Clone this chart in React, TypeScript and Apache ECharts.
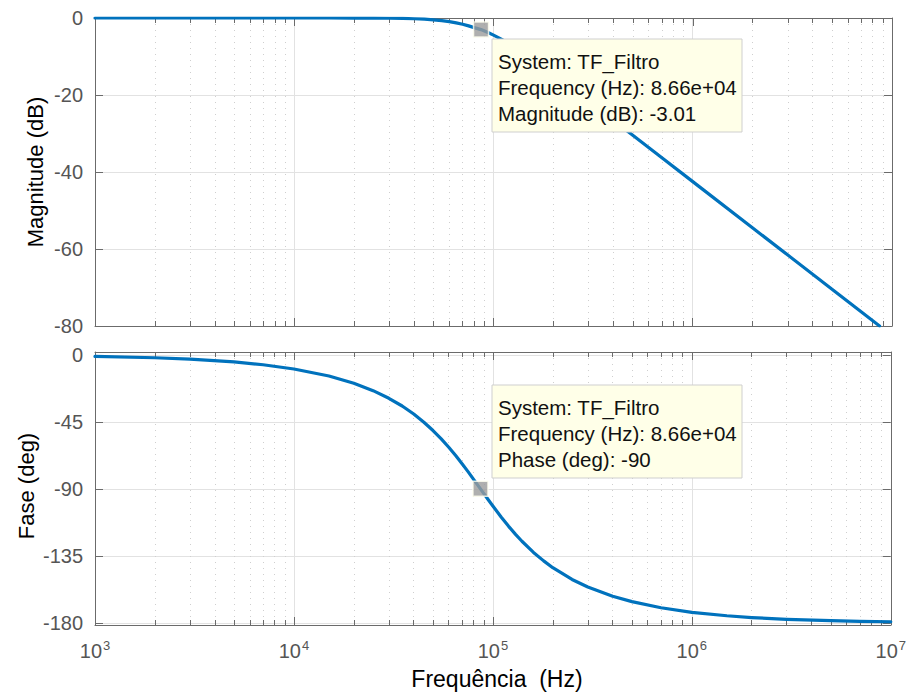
import React, { useEffect, useRef } from 'react';
import * as echarts from 'echarts';

// Magnitude response (Hz, dB)
const MAG_FREQ_HZ = [1e3, 2e3, 5e3, 1e4, 1.5e4, 2e4, 2.5e4, 3e4, 3.5e4, 4e4, 4.5e4, 5e4, 5.5e4, 6e4, 6.5e4, 7e4, 7.5e4, 8e4, 8.66e4, 9.5e4, 1e5, 1.1e5, 1.2e5, 1.3e5, 1.4e5, 1.6e5, 1.8e5, 2e5, 2.5e5, 3e5, 4e5, 5e5, 7e5, 1e6, 2e6, 3e6, 5e6, 8.66e6];
const MAG_DB = [0, 0, 0, 0, -0.004, -0.012, -0.03, -0.063, -0.116, -0.196, -0.31, -0.47, -0.67, -0.93, -1.25, -1.61, -2.04, -2.5, -3.01, -3.9, -4.44, -5.57, -6.71, -7.84, -8.94, -11.02, -12.94, -14.69, -18.48, -21.61, -26.59, -30.46, -36.3, -42.5, -54.54, -61.58, -70.46, -80];

// Phase response (Hz, deg)
const PH_FREQ_HZ = [1e3, 2e3, 3e3, 5e3, 7e3, 1e4, 1.5e4, 2e4, 2.5e4, 3e4, 3.5e4, 4e4, 4.5e4, 5e4, 5.5e4, 6e4, 6.5e4, 7e4, 7.5e4, 8e4, 8.66e4, 9.5e4, 1e5, 1.1e5, 1.2e5, 1.3e5, 1.4e5, 1.6e5, 1.8e5, 2e5, 2.5e5, 3e5, 4e5, 5e5, 7e5, 1e6, 1.5e6, 2e6, 3e6, 5e6, 7e6, 1e7];
const PH_DEG = [-0.94, -1.87, -2.81, -4.68, -6.56, -9.4, -14.17, -19.03, -24.0, -29.1, -34.3, -39.7, -45.2, -50.8, -56.4, -62.0, -67.6, -73.1, -78.4, -83.6, -90, -97.5, -101.5, -108.9, -115.2, -120.6, -125.2, -132.7, -138.4, -143.0, -150.9, -156.0, -162.2, -165.8, -169.9, -173.0, -175.3, -176.5, -177.7, -178.6, -179.0, -179.3];

// Axes
const X_MIN_HZ = 1e3;
const X_MAX_HZ = 1e7;
const DECADES = [3, 4, 5, 6];
const MINOR_MULT = [2, 3, 4, 5, 6, 7, 8, 9];
const MAG_TICKS = [-80, -60, -40, -20, 0];
const PHASE_TICKS = [-180, -135, -90, -45, 0];
const PHASE_MIN = -181.5;
const PHASE_MAX = 2;

// Data tips
const TIP_FREQ = 8.66e4;
const TIP_MAG = -3.01;
const TIP_PHASE = -90;
const TIP_MAG_LINES = ['System: TF_Filtro', 'Frequency (Hz): 8.66e+04', 'Magnitude (dB): -3.01'];
const TIP_PHASE_LINES = ['System: TF_Filtro', 'Frequency (Hz): 8.66e+04', 'Phase (deg): -90'];

const FONT = '"Liberation Sans", Arial, Helvetica, sans-serif';
const LINE_COLOR = '#0072BD';
const AXIS_COLOR = '#6b6b6b';
const LABEL_COLOR = '#555555';
const GRID_COLOR = '#e2e2e2';
const MINOR_GRID_COLOR = '#cfcfcf';

const GRID_LEFT = 95;
const GRID_RIGHT = 17;

export default function App() {
  const ref = useRef<HTMLDivElement>(null);

  useEffect(() => {
    if (!ref.current) return;
    const chart = echarts.init(ref.current, undefined, { renderer: 'svg' });

    const LOG_MIN = Math.log10(X_MIN_HZ);
    const LOG_MAX = Math.log10(X_MAX_HZ);
    const minorVals: number[] = [];
    DECADES.forEach((d) => MINOR_MULT.forEach((m) => minorVals.push(d + Math.log10(m))));

    const makeXAxes = (gi: number, withLabels: boolean) => [
      {
        type: 'log', gridIndex: gi, position: 'bottom', min: X_MIN_HZ, max: X_MAX_HZ, logBase: 10,
        axisLine: { show: true, onZero: false, lineStyle: { color: AXIS_COLOR, width: 1 } },
        axisTick: { show: true, inside: true, length: 8, lineStyle: { color: AXIS_COLOR } },
        axisLabel: withLabels
          ? {
              show: true, margin: 14, fontFamily: FONT, color: LABEL_COLOR,
              formatter: (v: number) => `{b|10}{s|${Math.round(Math.log10(v))}}`,
              rich: {
                b: { fontSize: 20, fontFamily: FONT, color: LABEL_COLOR, verticalAlign: 'bottom' },
                s: { fontSize: 13, fontFamily: FONT, color: LABEL_COLOR, verticalAlign: 'bottom', padding: [0, 0, 9, 1] },
              },
            }
          : { show: false },
        splitLine: { show: true, lineStyle: { color: GRID_COLOR, width: 1 } },
      },
      {
        type: 'value', gridIndex: gi, position: 'bottom', min: LOG_MIN, max: LOG_MAX,
        axisLine: { show: false, onZero: false },
        axisTick: { show: true, inside: true, length: 5, customValues: minorVals, lineStyle: { color: AXIS_COLOR } },
        axisLabel: { show: false, customValues: minorVals },
        splitLine: { show: true, lineStyle: { color: MINOR_GRID_COLOR, width: 1, type: [1, 5] } },
      },
      {
        type: 'value', gridIndex: gi, position: 'top', min: LOG_MIN, max: LOG_MAX, interval: 1,
        axisLine: { show: true, onZero: false, lineStyle: { color: AXIS_COLOR, width: 1 } },
        axisTick: { show: true, inside: true, length: 8, lineStyle: { color: AXIS_COLOR } },
        axisLabel: { show: false },
        splitLine: { show: false },
      },
      {
        type: 'value', gridIndex: gi, position: 'top', min: LOG_MIN, max: LOG_MAX,
        axisLine: { show: false, onZero: false },
        axisTick: { show: true, inside: true, length: 5, customValues: minorVals, lineStyle: { color: AXIS_COLOR } },
        axisLabel: { show: false, customValues: minorVals },
        splitLine: { show: false },
      },
    ];

    const makeYAxes = (gi: number, min: number, max: number, ticks: number[]) => [
      {
        type: 'value', gridIndex: gi, position: 'left', min, max,
        axisLine: { show: true, onZero: false, lineStyle: { color: AXIS_COLOR, width: 1 } },
        axisTick: { show: true, inside: true, length: 8, customValues: ticks, lineStyle: { color: AXIS_COLOR } },
        axisLabel: { show: true, customValues: ticks, margin: 12, fontSize: 20, fontFamily: FONT, color: LABEL_COLOR },
        splitLine: { show: true, lineStyle: { color: GRID_COLOR, width: 1 } },
      },
      {
        type: 'value', gridIndex: gi, position: 'right', min, max,
        axisLine: { show: true, onZero: false, lineStyle: { color: AXIS_COLOR, width: 1 } },
        axisTick: { show: true, inside: true, length: 8, customValues: ticks, lineStyle: { color: AXIS_COLOR } },
        axisLabel: { show: false, customValues: ticks },
        splitLine: { show: false },
      },
    ];

    const tipGroup = (x: number, y: number, lines: string[]) => ({
      type: 'group', x, y, z: 100,
      children: [
        { type: 'rect', shape: { x: 0, y: 0, width: 250, height: 93 }, style: { fill: '#ffffe8', stroke: '#cfcfcf', lineWidth: 1 }, z: 100 },
        ...lines.map((t, i) => ({
          type: 'text', x: 6, y: 22 + i * 26, z: 101,
          style: { text: t, fill: '#111', font: `20.5px ${FONT}`, textVerticalAlign: 'middle', textAlign: 'left' },
        })),
      ],
    });

    const option: any = {
      animation: false,
      backgroundColor: '#ffffff',
      grid: [
        { left: GRID_LEFT, right: GRID_RIGHT, top: 18, height: 308 },
        { left: GRID_LEFT, right: GRID_RIGHT, top: 352, height: 273 },
      ],
      xAxis: [...makeXAxes(0, false), ...makeXAxes(1, true)],
      yAxis: [...makeYAxes(0, -80, 0, MAG_TICKS), ...makeYAxes(1, PHASE_MIN, PHASE_MAX, PHASE_TICKS)],
      series: [
        {
          type: 'line', xAxisIndex: 0, yAxisIndex: 0, showSymbol: false, z: 5,
          data: MAG_FREQ_HZ.map((f, i) => [f, MAG_DB[i]]),
          lineStyle: { color: LINE_COLOR, width: 3.2, join: 'round', cap: 'round' },
        },
        {
          type: 'line', xAxisIndex: 4, yAxisIndex: 2, showSymbol: false, z: 5,
          data: PH_FREQ_HZ.map((f, i) => [f, PH_DEG[i]]),
          lineStyle: { color: LINE_COLOR, width: 3.2, join: 'round', cap: 'round' },
        },
        {
          type: 'scatter', xAxisIndex: 0, yAxisIndex: 0, z: 10, symbol: 'rect', symbolSize: 15,
          data: [[TIP_FREQ, TIP_MAG]],
          itemStyle: { color: '#9b9b9b', borderColor: '#fffff0', borderWidth: 1.5 },
        },
        {
          type: 'scatter', xAxisIndex: 4, yAxisIndex: 2, z: 10, symbol: 'rect', symbolSize: 15,
          data: [[TIP_FREQ, TIP_PHASE]],
          itemStyle: { color: '#9b9b9b', borderColor: '#fffff0', borderWidth: 1.5 },
        },
      ],
      graphic: [
        tipGroup(492, 39, TIP_MAG_LINES),
        tipGroup(492, 385, TIP_PHASE_LINES),
        {
          type: 'text', x: 35, y: 172, rotation: Math.PI / 2, z: 50,
          style: { text: 'Magnitude (dB)', fill: '#000', font: `22px ${FONT}`, textAlign: 'center', textVerticalAlign: 'middle' },
        },
        {
          type: 'text', x: 26, y: 486, rotation: Math.PI / 2, z: 50,
          style: { text: 'Fase (deg)', fill: '#000', font: `22px ${FONT}`, textAlign: 'center', textVerticalAlign: 'middle' },
        },
        {
          type: 'text', x: 497, y: 679, z: 50,
          style: { text: 'Frequência  (Hz)', fill: '#000', font: `23px ${FONT}`, textAlign: 'center', textVerticalAlign: 'middle' },
        },
      ],
    };

    chart.setOption(option);
    return () => chart.dispose();
  }, []);

  return (
    <div
      ref={ref}
      style={{ position: 'absolute', left: 0, top: 0, width: 909, height: 695, background: '#fff' }}
    />
  );
}
